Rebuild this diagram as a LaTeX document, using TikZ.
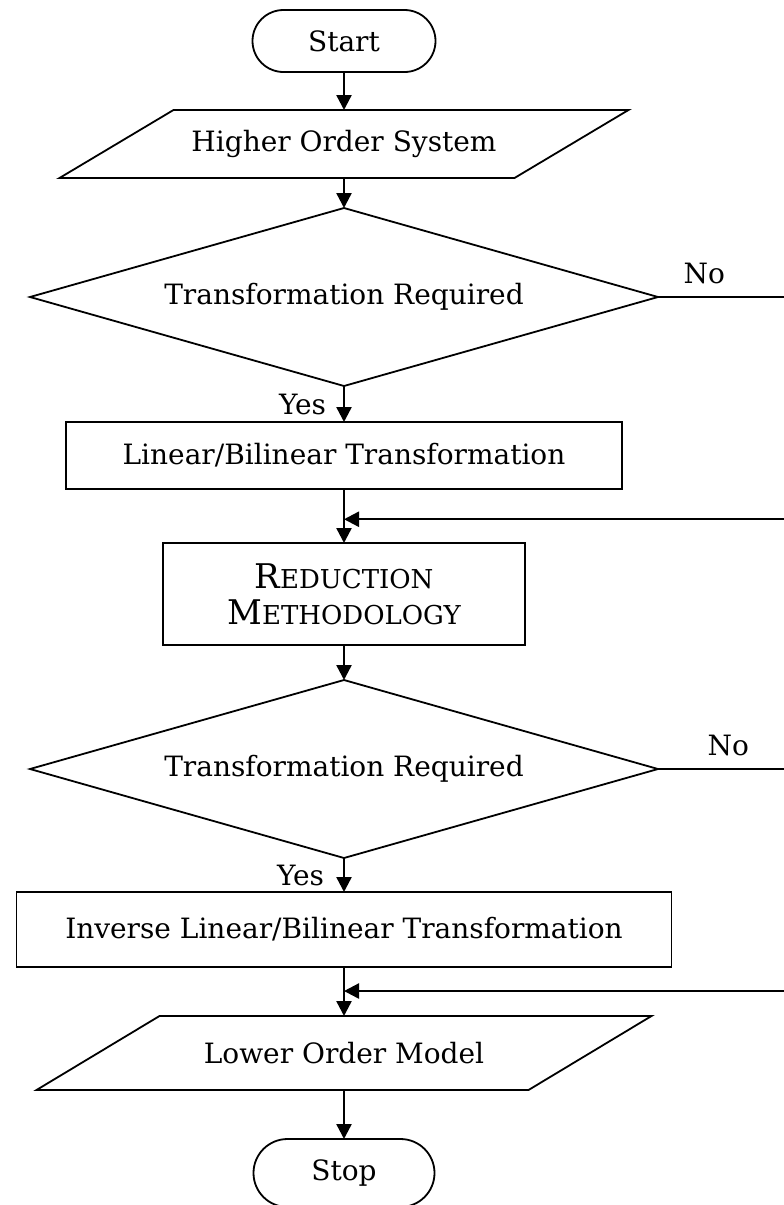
\documentclass[tikz,border=0pt]{standalone}
\usepackage{fontspec}
\setmainfont{DejaVu Serif}
\usetikzlibrary{arrows.meta,positioning,shapes.geometric,shapes.misc,calc}
\newcommand\fakesc[2]{{\fontsize{34}{36}\selectfont #1}{\fontsize{26}{36}\selectfont #2}}

\begin{document}
\begin{tikzpicture}[x=1pt, y=1pt, line width=2.4pt,
  every node/.style={font=\fontsize{28}{30}\selectfont, inner sep=0pt, outer sep=0pt},
  shapeline/.style={line width=1.8pt, line join=miter},
  term/.style={rounded rectangle, draw, shapeline, minimum width=183pt, minimum height=62pt},
  io/.style={rectangle, minimum height=68pt},
  decide/.style={diamond, draw, shapeline, aspect=3.5, minimum width=628pt, minimum height=178pt},
  proc/.style={rectangle, draw, shapeline},
  >={Triangle[length=15pt,width=15pt]}]
\useasboundingbox (0,0) rectangle (784,-1205);
\node[term] (start) at (344,-41) {Start};
\node[io, minimum width=455pt, below=38pt of start] (hos) {Higher Order System};
\node[decide, below=30pt of hos] (tr1) {Transformation Required};
\node[proc, minimum width=556pt, minimum height=67pt, below=36pt of tr1] (lin) {Linear/Bilinear Transformation};
\node[proc, minimum width=362pt, minimum height=102pt, align=center, font=\fontsize{26}{36}\selectfont, below=54pt of lin] (red) {\fakesc{R}{EDUCTION}\\\fakesc{M}{ETHODOLOGY}};
\node[decide, below=35pt of red] (tr2) {Transformation Required};
\node[proc, minimum width=655pt, minimum height=75pt, below=34pt of tr2] (inv) {Inverse Linear/Bilinear Transformation};
\node[io, minimum width=492pt, minimum height=74pt, below=49pt of inv] (lom) {Lower Order Model};
\node[term, minimum width=181pt, minimum height=68pt, below=49pt of lom] (stop) {Stop};
% slanted input/output boxes
\foreach \n/\s in {hos/57, lom/61.5}
  \draw[shapeline] ([xshift=\s pt]\n.north west) -- ([xshift=\s pt]\n.north east)
    -- ([xshift=-\s pt]\n.south east) -- ([xshift=-\s pt]\n.south west) -- cycle;
% where the No branches come back
\coordinate (j1) at ($(lin.south)!0.56!(red.north)$);
\coordinate (j2) at ($(inv.south)!0.49!(lom.north)$);
\coordinate (r1) at ([xshift=160pt]tr1.east);
\coordinate (r2) at ([xshift=160pt]tr2.east);
\draw[->] (start) -- (hos);
\draw[->] (hos) -- (tr1);
\draw[->] (tr1) -- node[left=18pt] (yes1) {Yes} (lin);
\draw[->] (lin) -- (red);
\draw[->] (red) -- (tr2);
\draw[->] (tr2) -- node[left=20pt] (yes2) {Yes} (inv);
\draw[->] (inv) -- (lom);
\draw[->] (lom) -- (stop);
\draw[->] (tr1.east) -- node[pos=0.29, above=13pt] (no1) {No} (r1) |- (j1);
\draw[->] (tr2.east) -- node[pos=0.44, above=13pt] (no2) {No} (r2) |- (j2);
\end{tikzpicture}
\end{document}
